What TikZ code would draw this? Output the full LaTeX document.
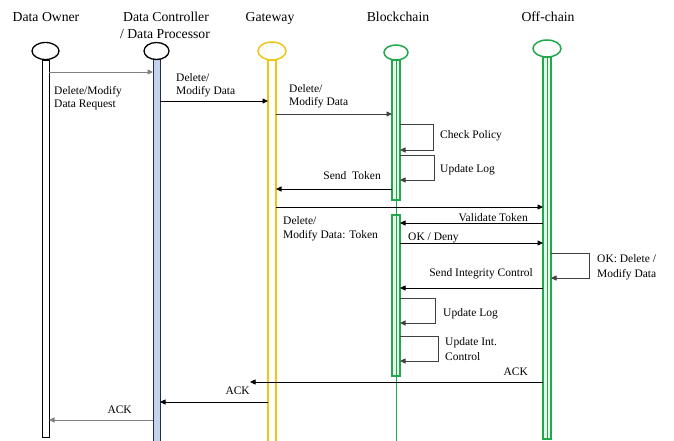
\documentclass[tikz,border=0pt]{standalone}
\usepackage{fontspec}
\setmainfont{Liberation Serif}
\usetikzlibrary{arrows.meta,shapes.geometric}
\definecolor{gold}{HTML}{F2C416}
\definecolor{grn}{HTML}{22A84C}
\definecolor{lgrn}{HTML}{E8F6EC}
\definecolor{navy}{HTML}{1E2C48}
\definecolor{lblue}{HTML}{C5D3EA}
\definecolor{msggray}{HTML}{808080}
\definecolor{loopgray}{HTML}{404040}
\begin{document}
\begin{tikzpicture}[x=1pt,y=-1pt,
  title/.style={anchor=base,inner sep=0pt,font=\fontsize{13.7}{15}\selectfont},
  lbl/.style={anchor=base west,inner sep=0pt,font=\fontsize{11.5}{13}\selectfont},
  lblr/.style={anchor=base east,inner sep=0pt,font=\fontsize{11.5}{13}\selectfont},
  head/.style={draw,ellipse,inner sep=0pt,fill=white},
  msg/.style={draw=black,line width=0.8pt,-{Triangle[length=5.5pt,width=5pt]}},
  gmsg/.style={msg,draw=msggray},
  selfloop/.style={draw=loopgray,line width=0.8pt,-{Triangle[length=5.5pt,width=5pt]}}]
\useasboundingbox (0,0) rectangle (674,441);
\fill[white] (0,0) rectangle (674,441);

% titles
\node[title] (t1) at (46,22) {Data Owner};
\node[title] (t2) at (166,22) {Data Controller};
\node[title] (t2b) at (165,39) {/ Data Processor};
\node[title] (t3) at (270,22) {Gateway};
\node[title] (t4) at (398,22) {Blockchain};
\node[title] (t5) at (548,22) {Off-chain};

% lifelines
\draw[black,line width=0.9pt,fill=white] (42,60) rectangle (49,437);
\draw[navy,line width=1pt,fill=lblue] (153,60) rectangle (160,445);
\draw[gold,line width=1.6pt,fill=white] (268,60) rectangle (276,445);
\draw[grn,line width=1pt] (396,60) -- (396,445);
\draw[grn,line width=1.1pt,fill=lgrn] (392,60) rectangle (400,200);
\draw[grn,line width=1.1pt,fill=lgrn] (392,215) rectangle (400,376);
\draw[grn,line width=0.8pt] (396,60) -- (396,200) (396,215) -- (396,376);
\draw[grn,line width=1.1pt,fill=lgrn] (543,57) rectangle (551,439);
\draw[grn,line width=0.8pt] (547,57) -- (547,439);

% heads
\node[head,draw=black,line width=1.3pt,minimum width=27pt,minimum height=17pt] (h1) at (45.5,51) {};
\node[head,draw=black,line width=1.3pt,minimum width=25pt,minimum height=17pt] (h2) at (156.5,51) {};
\node[head,draw=gold,line width=1.5pt,minimum width=28pt,minimum height=18pt] (h3) at (272,51) {};
\node[head,draw=grn,line width=1.5pt,minimum width=24pt,minimum height=15pt] (h4) at (396,52.5) {};
\node[head,draw=grn,line width=1.5pt,minimum width=28pt,minimum height=17pt] (h5) at (547,48.5) {};

% message end points
\coordinate (m1a) at (49,72);   \coordinate (m1b) at (153,72);
\coordinate (m2a) at (160,101); \coordinate (m2b) at (268,101);
\coordinate (m3a) at (276,114); \coordinate (m3b) at (392,114);
\coordinate (c1a) at (400,124); \coordinate (c1b) at (433,124); \coordinate (c1c) at (433,150); \coordinate (c1d) at (400,150);
\coordinate (c2a) at (400,155); \coordinate (c2b) at (434,155); \coordinate (c2c) at (434,180); \coordinate (c2d) at (400,180);
\coordinate (m4a) at (392,189); \coordinate (m4b) at (276,189);
\coordinate (m5a) at (276,207); \coordinate (m5b) at (543,207);
\coordinate (m6a) at (543,223); \coordinate (m6b) at (400,223);
\coordinate (m7a) at (400,243); \coordinate (m7b) at (543,243);
\coordinate (c3a) at (551,253); \coordinate (c3b) at (589,253); \coordinate (c3c) at (589,278); \coordinate (c3d) at (551,278);
\coordinate (m8a) at (543,288); \coordinate (m8b) at (400,288);
\coordinate (c4a) at (400,298); \coordinate (c4b) at (435,298); \coordinate (c4c) at (435,323); \coordinate (c4d) at (400,323);
\coordinate (c5a) at (400,336); \coordinate (c5b) at (438,336); \coordinate (c5c) at (438,361); \coordinate (c5d) at (400,361);
\coordinate (m9a) at (543,382); \coordinate (m9b) at (250,382);
\coordinate (m10a) at (268,402); \coordinate (m10b) at (160,402);
\coordinate (m11a) at (153,420); \coordinate (m11b) at (49,420);

% messages
\draw[gmsg] (m1a) -- (m1b);
\draw[msg] (m2a) -- (m2b);
\draw[msg,draw=black!75] (m3a) -- (m3b);
\draw[selfloop] (c1a) -- (c1b) -- (c1c) -- (c1d);
\draw[selfloop] (c2a) -- (c2b) -- (c2c) -- (c2d);
\draw[msg] (m4a) -- (m4b);
\draw[msg] (m5a) -- (m5b);
\draw[msg] (m6a) -- (m6b);
\draw[msg] (m7a) -- (m7b);
\draw[selfloop] (c3a) -- (c3b) -- (c3c) -- (c3d);
\draw[msg] (m8a) -- (m8b);
\draw[selfloop] (c4a) -- (c4b) -- (c4c) -- (c4d);
\draw[selfloop] (c5a) -- (c5b) -- (c5c) -- (c5d);
\draw[msg] (m9a) -- (m9b);
\draw[msg] (m10a) -- (m10b);
\draw[gmsg] (m11a) -- (m11b);

% labels
\node[lbl] (l1a) at (54,95) {Delete/Modify};
\node[lbl] (l1b) at (54,108) {Data Request};
\node[lbl] (l2a) at (176,82) {Delete/};
\node[lbl] (l2b) at (176,95) {Modify Data};
\node[lbl] (l3a) at (289,93) {Delete/};
\node[lbl] (l3b) at (289,106) {Modify Data};
\node[lbl] (l4) at (440,139) {Check Policy};
\node[lbl] (l5) at (440,172) {Update Log};
\node[lblr] (l6) at (381,179) {Send~~Token};
\node[lbl] (l7a) at (283,224) {Delete/};
\node[lbl] (l7b) at (283,238) {Modify Data: Token};
\node[lblr] (l8) at (528,221) {Validate Token};
\node[lbl] (l9) at (408,240) {OK / Deny};
\node[lbl] (l10a) at (597,262) {OK: Delete /};
\node[lbl] (l10b) at (597,277) {Modify Data};
\node[lblr] (l11) at (533,276) {Send Integrity Control};
\node[lbl] (l12) at (443,316) {Update Log};
\node[lbl] (l13a) at (445,345) {Update Int.};
\node[lbl] (l13b) at (445,360) {Control};
\node[lblr] (l14) at (528,375) {ACK};
\node[lblr] (l15) at (250,394) {ACK};
\node[lblr] (l16) at (132,413) {ACK};
\end{tikzpicture}
\end{document}
